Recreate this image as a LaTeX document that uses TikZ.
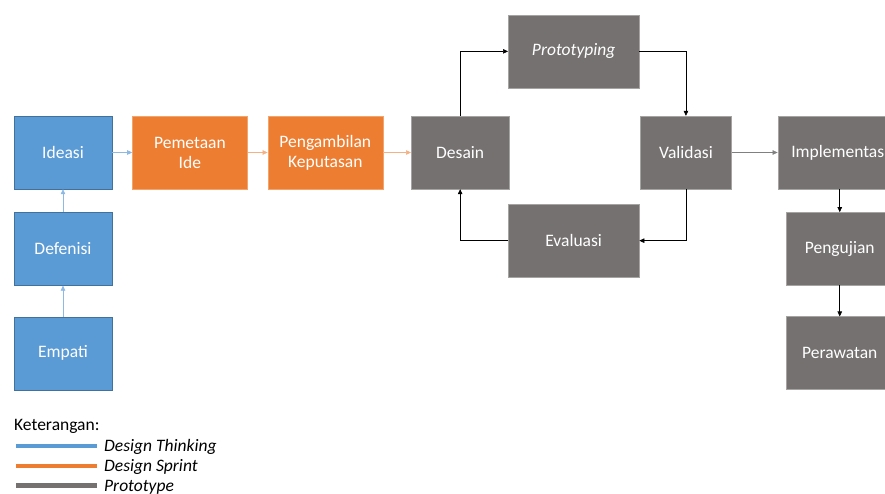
\documentclass[tikz,border=0pt]{standalone}
\usepackage{fontspec}
\setmainfont{Carlito}
\usetikzlibrary{arrows.meta, positioning}
\definecolor{blueFill}{HTML}{5B9BD5}
\definecolor{blueEdge}{HTML}{41719C}
\definecolor{blueLink}{HTML}{8DB9E2}
\definecolor{orangeFill}{HTML}{ED7D31}
\definecolor{orangeLink}{HTML}{F4B183}
\definecolor{protoFill}{HTML}{767171}
\definecolor{protoEdge}{HTML}{A6A3A3}

\begin{document}
\begin{tikzpicture}[x=1pt, y=-1pt, >={Triangle[length=5pt,width=4.5pt]}, every node/.style={font=\fontsize{17.5}{20}\selectfont}]
  % Define styles
  \tikzstyle{thinking} = [rectangle, minimum width=98pt, minimum height=73pt, inner sep=0pt, align=center, draw=blueEdge, fill=blueFill, text=white]
  \tikzstyle{sprint} = [rectangle, minimum width=115pt, minimum height=73pt, inner sep=0pt, align=center, draw=orangeFill!70!white, fill=orangeFill, text=white]
  \tikzstyle{proto} = [rectangle, minimum width=98pt, minimum height=73pt, inner sep=0pt, align=center, draw=protoEdge, line width=0.3pt, fill=protoFill, text=white]
  \tikzstyle{line} = [draw, ->, line width=0.6pt]
  \tikzstyle{legendline} = [line width=4.5pt]
  \tikzstyle{keytext} = [anchor=base west, inner sep=0pt, font=\fontsize{17.5}{20}\selectfont\itshape]

  \useasboundingbox (0,0) rectangle (885,493);
  \clip (0,0) rectangle (885,493);

  % Place nodes
  \node [thinking] (ideasi) at (63,152.5) {Ideasi};
  \node [thinking, below=23pt of ideasi] (defenisi) {Defenisi};
  \node [thinking, below=31pt of defenisi] (empati) {Empati};
  \node [sprint, right=20pt of ideasi] (pemetaan) {Pemetaan\\Ide};
  \node [sprint, right=20pt of pemetaan] (pengambilan) {Pengambilan\\Keputasan};
  \node [proto, right=28pt of pengambilan] (desain) {Desain};
  \node [proto, minimum width=131pt, anchor=south west] (prototyping) at (508,88) {\itshape Prototyping};
  \node [proto, minimum width=91pt, right=131pt of desain] (validasi) {Validasi};
  \node [proto, minimum width=131pt, anchor=north west] (evaluasi) at (508,204) {Evaluasi};
  \node [proto, minimum width=124pt, right=46pt of validasi] (implementasi) {Implementasi};
  \node [proto, minimum width=108pt, below=23pt of implementasi] (pengujian) {Pengujian};
  \node [proto, minimum width=108pt, below=31pt of pengujian] (perawatan) {Perawatan};

  % Draw edges
  \path [line, blueLink] (empati) -- (defenisi);
  \path [line, blueLink] (defenisi) -- (ideasi);
  \path [line, blueLink] (ideasi) -- (pemetaan);
  \path [line, orangeLink] (pemetaan) -- (pengambilan);
  \path [line, orangeLink] (pengambilan) -- (desain);
  \path [line] (desain.north) |- (prototyping.west);
  \path [line] (prototyping.east) -| (validasi.north);
  \path [line] (validasi.south) |- (evaluasi.east);
  \path [line] (evaluasi.west) -| (desain.south);
  \path [line, gray] (validasi) -- (implementasi);
  \path [line] (implementasi) -- (pengujian);
  \path [line] (pengujian) -- (perawatan);

  % Key (Legend)
  \node [anchor=base west, inner sep=0pt] (keyLabel) at (14,430) {Keterangan:};
  \node [keytext] (keyThinking) at (104,451) {Design Thinking};
  \node [keytext] (keySprint) at (104,471.5) {Design Sprint};
  \node [keytext] (keyProto) at (104,491) {Prototype};
  \draw [legendline, blueFill] ([xshift=-7pt, yshift=5pt]keyThinking.base west) -- ++(-81,0);
  \draw [legendline, orangeFill] ([xshift=-7pt, yshift=5.5pt]keySprint.base west) -- ++(-81,0);
  \draw [legendline, protoFill] ([xshift=-7pt, yshift=5.5pt]keyProto.base west) -- ++(-81,0);

\end{tikzpicture}
\end{document}
